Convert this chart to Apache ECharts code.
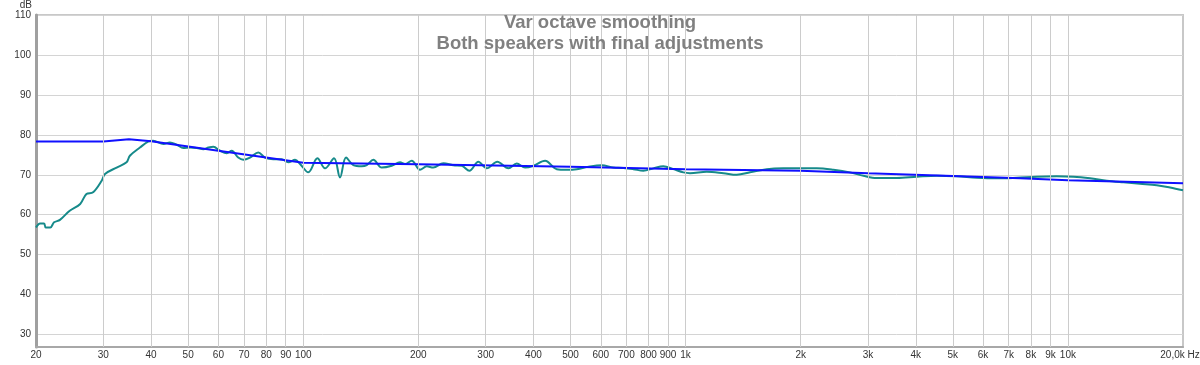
<!DOCTYPE html>
<html>
<head>
<meta charset="utf-8">
<script src="https://cdn.jsdelivr.net/npm/echarts@6/dist/echarts.min.js"></script>
<style>html,body{margin:0;padding:0;background:#fff}#c{width:1200px;height:365px}</style>
</head>
<body>
<div id="c"></div>
<script>
// Measured response (green), frequency in Hz and level in dB
const measFreq = [20,20.5,21.0,21.2,21.8,22.3,23.1,24.5,26.1,27.1,28.2,29.7,30.3,32.5,34.5,35.2,37.4,39.3,40.5,43.1,44.8,46.7,48.6,50.6,52.7,54.8,56.5,58.2,60.6,63.1,65.0,67.6,69.7,72.6,76.3,79.4,83.5,87.8,91.4,95.2,98.1,103.1,108.9,114.0,120.4,124.8,129.4,135.2,142.2,146.6,152.5,160.4,170.4,179.1,184.6,192.2,202,210.4,218.8,232.5,247,259.8,272,287.1,302,321.8,344,361.8,380.4,400,429.1,460.3,488.9,519.2,562.4,603.7,647.2,687.7,730.2,775.6,823.6,874.8,929,986.8,1027,1136,1256,1361,1475,1631,1802,1993,2204,2436,2693,2918,3162,3568,4024,4539,5122,5777,6516,7350,8290,9352,10340,11430,12640,13970,15440,17080,18500,20000];
const measDb = [56.8,57.8,57.8,56.8,56.8,58.1,58.7,61.0,62.7,65.2,65.6,68.5,70.2,71.8,73.1,74.75,76.8,78.3,78.5,77.7,78.1,77.5,76.7,76.8,76.7,76.4,76.8,77.0,76.0,75.4,76.0,74.3,73.75,74.3,75.6,74.3,73.9,73.9,73.1,73.75,72.7,70.6,74.1,71.6,74.1,69.3,74.3,72.4,72.1,72.4,73.75,71.8,72.25,73.1,72.7,73.5,71.25,72.1,71.8,72.9,72.4,72.25,71.0,73.25,71.6,73.25,71.6,72.8,71.8,72.25,73.5,71.4,71.25,71.4,72.1,72.4,71.8,71.7,71.4,71.0,71.6,72.1,71.4,70.6,70.4,70.75,70.4,70.0,70.6,71.4,71.6,71.6,71.6,71.25,70.6,69.75,69.2,69.2,69.5,69.75,69.6,69.25,69.1,69.25,69.5,69.6,69.5,69.1,68.5,68.1,67.75,67.4,66.8,66.1];
// Target curve (blue)
const targetFreq = [20,30,35,40,100,200,500,1000,2000,3000,5000,7500,10000,20000];
const targetDb = [78.3,78.3,78.9,78.4,73.0,72.6,72.0,71.4,71.0,70.4,69.7,69.1,68.6,67.9];
// X tick values and labels
const xTickValues = [20,30,40,50,60,70,80,90,100,200,300,400,500,600,700,800,900,1000,2000,3000,4000,5000,6000,7000,8000,9000,10000,20000];
const xTickLabels = ['20','30','40','50','60','70','80','90','100','200','300','400','500','600','700','800','900','1k','2k','3k','4k','5k','6k','7k','8k','9k','10k','20,0k Hz'];
const titleLines = ['Var octave smoothing','Both speakers with final adjustments'];

const chart = echarts.init(document.getElementById('c'), null, {renderer:'canvas'});
const font = 'Liberation Sans, Arial, sans-serif';
const gridMarks = xTickValues.map((v,i) => {
  const item = {xAxis: v, name: xTickLabels[i]};
  if (i === 0 || i === xTickValues.length - 1) item.lineStyle = {color: 'rgba(0,0,0,0)'};
  if (i === xTickValues.length - 1) item.label = {offset: [-3, 0]};
  return item;
});
chart.setOption({
  animation: false,
  backgroundColor: '#ffffff',
  title: {
    text: titleLines.join('\n'),
    left: 'center', top: 12, padding: 0,
    textStyle: {fontFamily: font, fontSize: 18.5, fontWeight: 'bold', color: '#808080', lineHeight: 21}
  },
  grid: {left: 36, right: 17, top: 13, bottom: 18, show: true, borderColor: '#c8c8c8', borderWidth: 2},
  xAxis: {
    type: 'log', logBase: 10, min: 20, max: 20000,
    axisLine: {show: true, onZero: false, lineStyle: {color: '#a8a8a8', width: 2}},
    axisTick: {show: false}, axisLabel: {show: false}, splitLine: {show: false}
  },
  yAxis: {
    type: 'value', min: 26.9, max: 110, minInterval: 10, maxInterval: 10,
    name: 'dB', nameLocation: 'end', nameGap: 4,
    nameTextStyle: {fontFamily: font, fontSize: 10, color: '#333', align: 'right', padding: [0, 4, 0, 0]},
    axisLine: {show: true, lineStyle: {color: '#a0a0a0', width: 3}},
    axisTick: {show: false},
    axisLabel: {fontFamily: font, fontSize: 10, color: '#333', margin: 5,
      formatter: v => (Math.abs(v % 10) < 1e-6 ? String(Math.round(v)) : '')},
    splitLine: {lineStyle: {color: '#d4d4d4', width: 1}}
  },
  series: [
    {
      type: 'line', name: 'grid', data: [], z: 1, silent: true,
      markLine: {
        silent: true, symbol: ['none', 'none'], animation: false, precision: 6,
        lineStyle: {color: '#cccccc', width: 1, type: 'solid'},
        label: {show: true, position: 'start', distance: 3, formatter: '{b}', fontFamily: font, fontSize: 10, color: '#333'},
        emphasis: {disabled: true},
        data: gridMarks
      }
    },
    {
      type: 'line', name: 'measured', z: 3, smooth: 0.35, showSymbol: false, silent: true,
      lineStyle: {color: '#168a8a', width: 2},
      data: measFreq.map((f,i) => [f, measDb[i]])
    },
    {
      type: 'line', name: 'target', z: 4, showSymbol: false, silent: true,
      lineStyle: {color: '#1010ff', width: 2},
      data: targetFreq.map((f,i) => [f, targetDb[i]])
    }
  ]
});
</script>
</body>
</html>
